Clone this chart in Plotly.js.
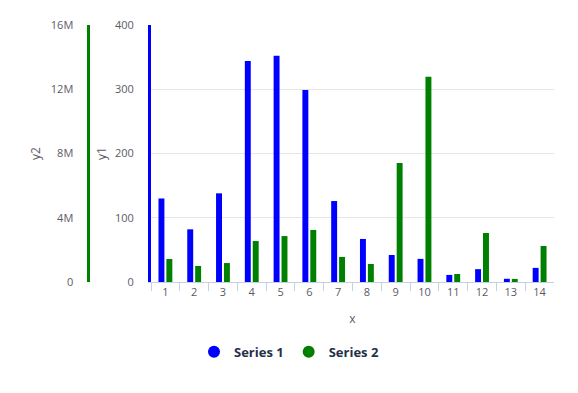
<!DOCTYPE html>
<html>
<head>
<meta charset="utf-8">
<script src="https://cdn.plot.ly/plotly-3.0.1.min.js"></script>
<style>html,body{margin:0;padding:0;background:#fff}#chart{width:578px;height:393px}</style>
</head>
<body>
<div id="chart"></div>
<script>
const categories = ['1','2','3','4','5','6','7','8','9','10','11','12','13','14'];
const series1 = [130, 82, 138, 344, 352, 299, 126, 67, 42, 36, 11, 20, 5, 22];
const series2 = [1430000, 1000000, 1180000, 2550000, 2860000, 3240000, 1560000, 1120000, 7410000, 12780000, 500000, 3050000, 190000, 2240000];
const y1Ticks = [0, 100, 200, 300, 400];
const y2Ticks = [0, 4000000, 8000000, 12000000, 16000000];
const y2TickText = ['0', '4M', '8M', '12M', '16M'];

const blue = '#0000ff', green = '#008000';
const tickFont = {family: 'Open Sans', size: 11, color: '#5c5a66'};
const titleFont = {family: 'Open Sans', size: 12, color: '#5c5a66'};

const traces = [
  {type: 'bar', x: categories, y: series1, name: 'Series 1', marker: {color: blue},
   xaxis: 'x', yaxis: 'y', offsetgroup: '1', showlegend: false, hoverinfo: 'skip'},
  {type: 'bar', x: categories, y: series2, name: 'Series 2', marker: {color: green},
   xaxis: 'x', yaxis: 'y2', offsetgroup: '2', showlegend: false, hoverinfo: 'skip'},
  {type: 'scatter', mode: 'markers', x: [null], y: [null], name: 'Series 1',
   marker: {color: blue, size: 12, symbol: 'circle'}, showlegend: true},
  {type: 'scatter', mode: 'markers', x: [null], y: [null], name: 'Series 2',
   marker: {color: green, size: 12, symbol: 'circle'}, showlegend: true}
];

const layout = {
  width: 578, height: 393,
  margin: {l: 10, r: 24, t: 25, b: 111},
  paper_bgcolor: '#fff', plot_bgcolor: '#fff',
  barmode: 'group', bargap: 0.45, bargroupgap: 0.25,
  font: {family: 'Open Sans', size: 11, color: '#5c5a66'},
  xaxis: {
    type: 'category', domain: [0.2592, 1], range: [-0.5, 13.5],
    tickson: 'boundaries', ticks: 'outside', ticklen: 8, tickcolor: '#c5d1e3', tickwidth: 1,
    showline: true, linecolor: '#c5d1e3', linewidth: 1,
    showgrid: false, zeroline: false, tickfont: tickFont,
    title: {text: 'x', font: titleFont, standoff: 16}
  },
  yaxis: {
    range: [0, 400], tickvals: y1Ticks, anchor: 'x',
    showline: true, linecolor: blue, linewidth: 3,
    showgrid: true, gridcolor: '#e6e6e6', gridwidth: 1, zeroline: false,
    ticks: '', ticklabelstandoff: 12, tickfont: tickFont,
    title: {text: 'y1', font: titleFont, standoff: 6}
  },
  yaxis2: {
    range: [0, 16000000], tickvals: y2Ticks, ticktext: y2TickText,
    overlaying: 'y', side: 'left', anchor: 'free', position: 0.1443,
    showline: true, linecolor: green, linewidth: 3,
    showgrid: false, zeroline: false,
    ticks: '', ticklabelstandoff: 12, tickfont: tickFont,
    title: {text: 'y2', font: titleFont, standoff: 6}
  },
  legend: {
    orientation: 'h', xref: 'container', x: 0.5, xanchor: 'center',
    yref: 'container', y: 0.105, yanchor: 'middle',
    font: {family: 'Open Sans', size: 13, color: '#253047', weight: 'bold'},
    itemclick: false
  },
  showlegend: true
};

Plotly.newPlot('chart', traces, layout, {displayModeBar: false, staticPlot: true});
</script>
</body>
</html>
